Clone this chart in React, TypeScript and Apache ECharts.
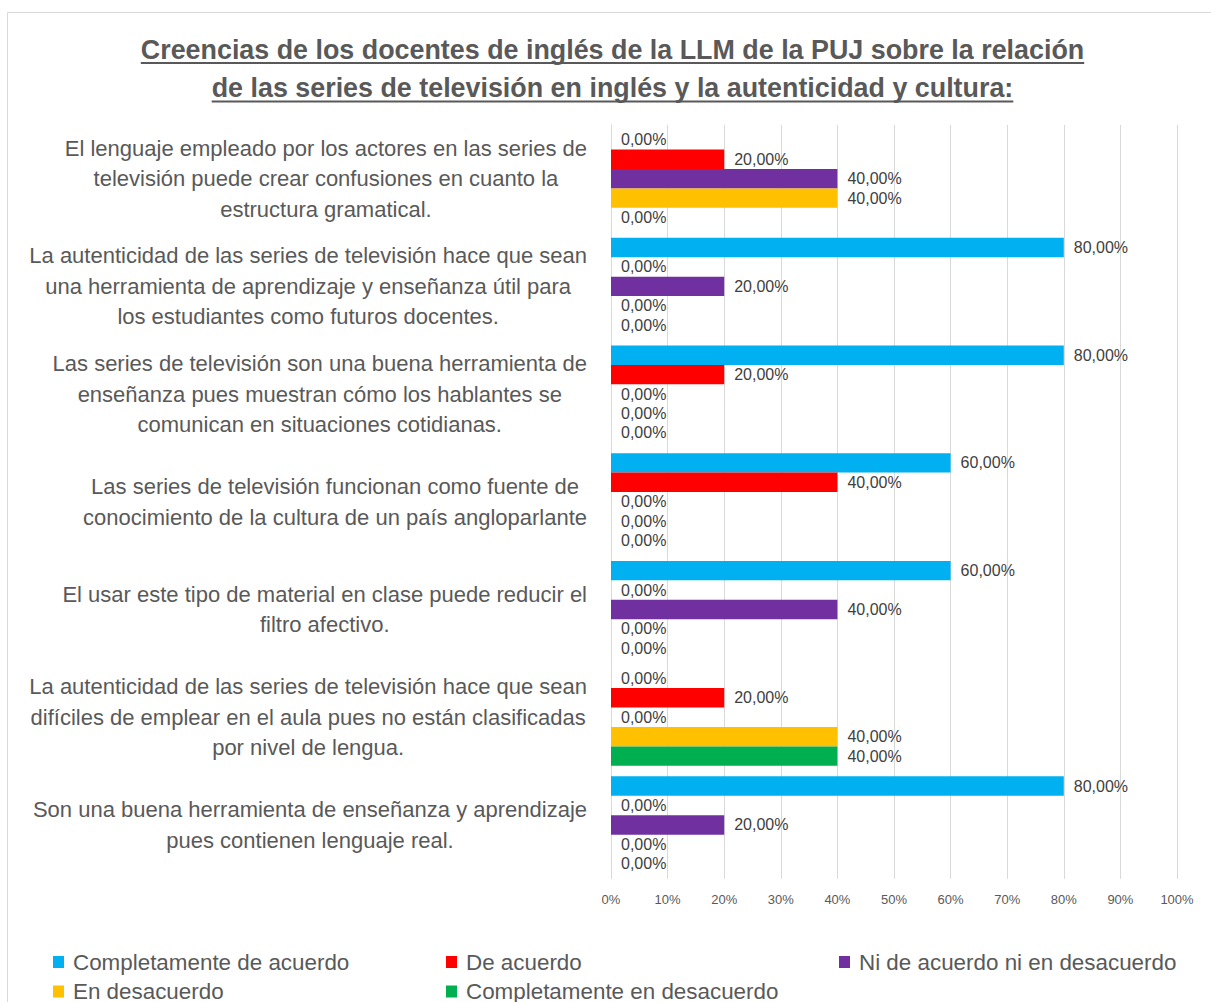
import React, { useEffect, useRef } from 'react';
import * as echarts from 'echarts';

const FONT = '"Liberation Sans", Arial, sans-serif';

const titleLines = [
  'Creencias de los docentes de inglés de la LLM de la PUJ sobre la relación',
  'de las series de televisión en inglés y la autenticidad y cultura:',
];

const categories = [
  'El lenguaje empleado por los actores en las series de\ntelevisión puede crear confusiones en cuanto la\nestructura gramatical.',
  'La autenticidad de las series de televisión hace que sean\nuna herramienta de aprendizaje y enseñanza útil para\nlos estudiantes como futuros docentes.',
  'Las series de televisión son una buena herramienta de\nenseñanza pues muestran cómo los hablantes se\ncomunican en situaciones cotidianas.',
  'Las series de televisión funcionan como fuente de\nconocimiento de la cultura de un país angloparlante',
  'El usar este tipo de material en clase puede reducir el\nfiltro afectivo.',
  'La autenticidad de las series de televisión hace que sean\ndifíciles de emplear en el aula pues no están clasificadas\npor nivel de lengua.',
  'Son una buena herramienta de enseñanza y aprendizaje\npues contienen lenguaje real.',
];

const seriesNames = [
  'Completamente de acuerdo',
  'De acuerdo',
  'Ni de acuerdo ni en desacuerdo',
  'En desacuerdo',
  'Completamente en desacuerdo',
];

const completamenteDeAcuerdo = [0, 80, 80, 60, 60, 0, 80];
const deAcuerdo = [20, 0, 20, 40, 0, 20, 0];
const niDeAcuerdoNiEnDesacuerdo = [40, 20, 0, 0, 40, 0, 20];
const enDesacuerdo = [40, 0, 0, 0, 0, 40, 0];
const completamenteEnDesacuerdo = [0, 0, 0, 0, 0, 40, 0];

const seriesValues = [
  completamenteDeAcuerdo,
  deAcuerdo,
  niDeAcuerdoNiEnDesacuerdo,
  enDesacuerdo,
  completamenteEnDesacuerdo,
];

const seriesColors = ['#00B0F0', '#FF0000', '#7030A0', '#FFC000', '#00B050'];

const xMin = 0;
const xMax = 100;
const xStep = 10;

const legendPositions = [
  [53, 950],
  [446, 950],
  [839, 950],
  [53, 979.5],
  [446, 979.5],
];

function measure(text: string, font: string): number {
  const ctx = document.createElement('canvas').getContext('2d');
  if (!ctx) return text.length * 10;
  ctx.font = font;
  return ctx.measureText(text).width;
}

export default function App() {
  const ref = useRef<HTMLDivElement>(null);

  useEffect(() => {
    document.body.style.margin = '0';
    if (!ref.current) return;
    const chart = echarts.init(ref.current, null, { renderer: 'svg' });

    const baseW = measure(titleLines[0], `bold 20px ${FONT}`);
    const titleSize = (20 * 944) / baseW;
    const titleCenter = 612.5;
    const titleY = [49.5, 87.5];
    const underlineY = [63, 101.5];

    const graphic: any[] = [
      {
        type: 'rect',
        shape: { x: 7.5, y: 12.5, width: 1400, height: 1200 },
        style: { fill: 'none', stroke: '#d9d9d9', lineWidth: 1 },
        silent: true,
      },
    ];
    titleLines.forEach((t, i) => {
      const w = measure(t, `bold ${titleSize}px ${FONT}`);
      graphic.push({
        type: 'text',
        x: titleCenter,
        y: titleY[i],
        style: {
          text: t,
          fill: '#595959',
          font: `bold ${titleSize}px ${FONT}`,
          align: 'center',
          verticalAlign: 'middle',
        },
      });
      graphic.push({
        type: 'line',
        shape: { x1: titleCenter - w / 2, y1: underlineY[i], x2: titleCenter + w / 2, y2: underlineY[i] },
        style: { stroke: '#595959', lineWidth: 2 },
      });
    });

    const option: any = {
      animation: false,
      backgroundColor: '#ffffff',
      textStyle: { fontFamily: FONT },
      grid: { left: 611, right: 34, top: 124.8, bottom: 123.2, containLabel: false },
      xAxis: {
        type: 'value',
        min: xMin,
        max: xMax,
        interval: xStep,
        axisLine: { show: false },
        axisTick: { show: false },
        splitLine: { show: true, lineStyle: { color: '#d9d9d9', width: 1 } },
        axisLabel: {
          formatter: '{value}%',
          color: '#595959',
          fontSize: 13,
          fontFamily: FONT,
          margin: 14,
        },
      },
      yAxis: {
        type: 'category',
        data: categories,
        inverse: true,
        axisLine: { show: true, lineStyle: { color: '#d9d9d9' } },
        axisTick: { show: false },
        axisLabel: {
          interval: 0,
          margin: 24,
          align: 'right',
          formatter: (v: string) =>
            v
              .split('\n')
              .map((l) => `{c|${l}}`)
              .join('\n'),
          rich: {
            c: {
              align: 'center',
              fontSize: 22,
              lineHeight: 30.5,
              color: '#595959',
              fontFamily: FONT,
            },
          },
        },
      },
      legend: seriesNames.map((n, i) => ({
        data: [n],
        left: legendPositions[i][0],
        top: legendPositions[i][1],
        icon: 'rect',
        itemWidth: 11,
        itemHeight: 12,
        padding: 0,
        selectedMode: false,
        textStyle: {
          fontSize: 22.4,
          lineHeight: 24,
          color: '#595959',
          fontFamily: FONT,
          padding: [0, 0, 0, 4],
        },
      })),
      graphic,
      series: seriesNames.map((n, i) => ({
        type: 'bar',
        name: n,
        data: seriesValues[i],
        barGap: '0%',
        barCategoryGap: '9.7%',
        itemStyle: { color: seriesColors[i] },
        label: {
          show: true,
          position: 'right',
          distance: 10,
          fontSize: 16,
          color: '#404040',
          fontFamily: FONT,
          formatter: (p: any) => Number(p.value).toFixed(2).replace('.', ',') + '%',
        },
      })),
    };

    chart.setOption(option);
    return () => chart.dispose();
  }, []);

  return <div ref={ref} style={{ width: 1211, height: 1002 }} />;
}
